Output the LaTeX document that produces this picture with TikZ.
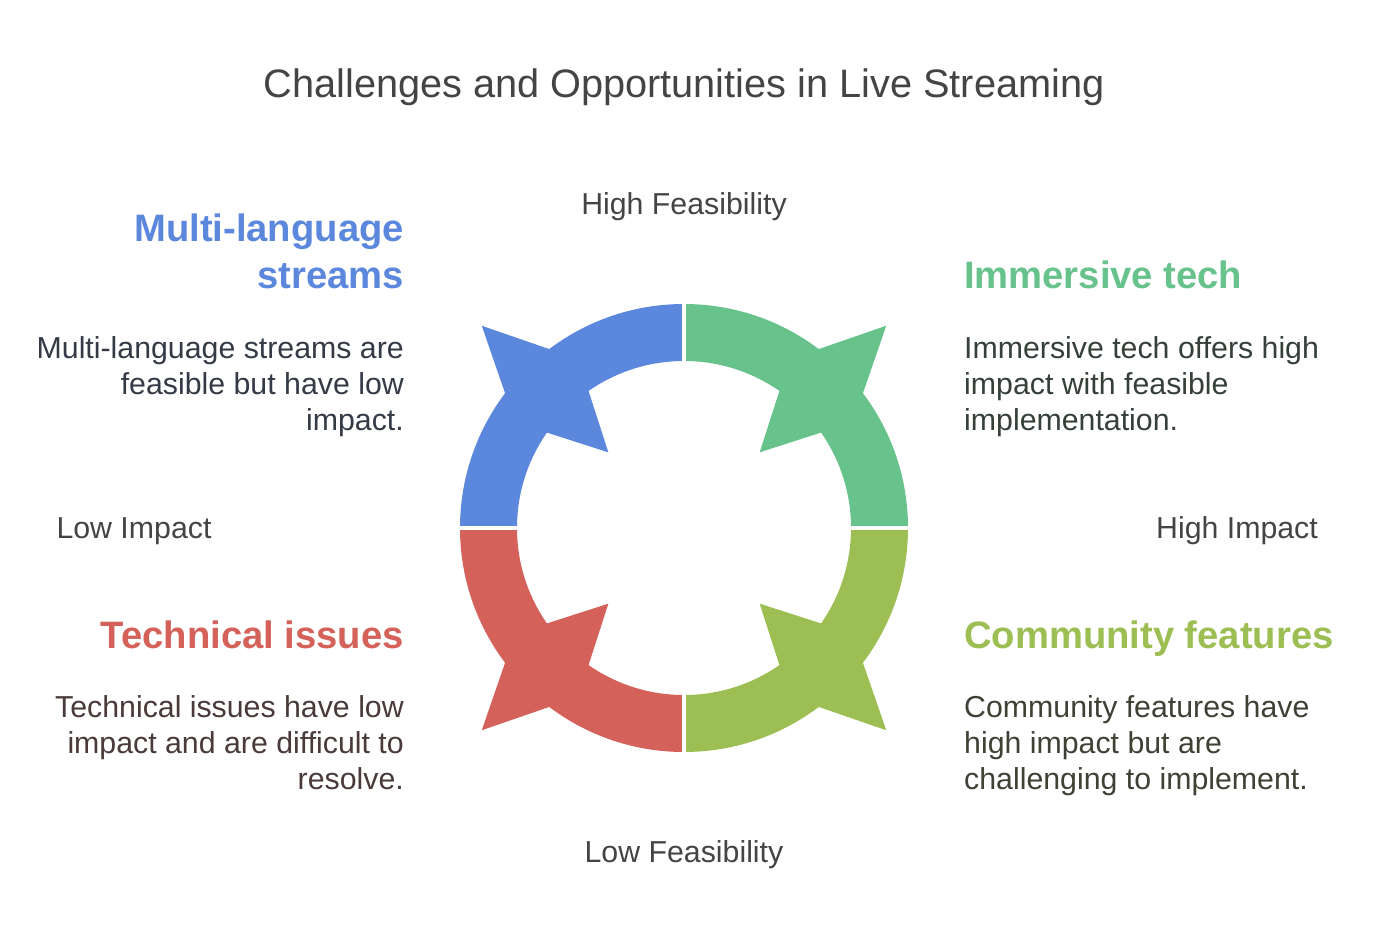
\documentclass[tikz,border=0pt]{standalone}
\usepackage{fontspec}
\setmainfont{Liberation Sans}
\definecolor{cblue}{RGB}{91,135,221}
\definecolor{cgreen}{RGB}{103,194,140}
\definecolor{cred}{RGB}{212,97,90}
\definecolor{colive}{RGB}{156,190,82}
\definecolor{titlegray}{RGB}{68,68,68}
\definecolor{axisgray}{RGB}{68,68,68}
\definecolor{tblue}{RGB}{52,58,70}
\definecolor{tgreen}{RGB}{52,64,56}
\definecolor{tred}{RGB}{74,58,58}
\definecolor{tolive}{RGB}{62,66,52}
\newcommand\ringpart[2]{%
  \fill[#1] (#2:224) arc[start angle=#2, end angle=#2+90, radius=224]
     -- ({#2+90}:167) arc[start angle=#2+90, end angle=#2, radius=167] -- cycle;
  \fill[#1] ({#2+45}:286) -- ({#2+45-8.1}:223.5) -- ({#2+45-10.2}:167.5)
     -- ({#2+45}:107) -- ({#2+45+10.2}:167.5) -- ({#2+45+8.1}:223.5) -- cycle;
}
\begin{document}
\begin{tikzpicture}[x=1pt,y=-1pt,
  titlestyle/.style={font=\fontsize{39.7}{46}\selectfont, text=titlegray, anchor=base, inner sep=0pt},
  axislab/.style={font=\fontsize{30.3}{34}\selectfont, text=axisgray, anchor=base, inner sep=0pt},
  head/.style={font=\fontsize{38.2}{44}\selectfont\bfseries, inner sep=0pt},
  body/.style={font=\fontsize{30.3}{36}\selectfont, inner sep=0pt}]
\useasboundingbox (0,0) rectangle (1384,948);
\fill[white] (0,0) rectangle (1384,948);

% ring
\begin{scope}[shift={(684,528)}, yscale=-1]
  \ringpart{cblue}{90}
  \ringpart{cgreen}{0}
  \ringpart{cred}{180}
  \ringpart{colive}{270}
  \foreach \a in {0,90,180,270}
    \draw[white, line width=4pt] (\a:160) -- (\a:232);
\end{scope}

% title and axis labels
\node[titlestyle] (title) at (684,97) {Challenges and Opportunities in Live Streaming};
\node[axislab] (hf) at (684,214) {High Feasibility};
\node[axislab] (lf) at (684,862) {Low Feasibility};
\node[axislab] (li) at (134,538) {Low Impact};
\node[axislab] (hi) at (1237,538) {High Impact};

% Multi-language streams
\node[head, text=cblue, anchor=base east] (mlh1) at (404,241) {Multi-language};
\node[head, text=cblue, anchor=base east] (mlh2) at (404,288) {streams};
\node[body, text=tblue, anchor=base east] (mlb1) at (404,358) {Multi-language streams are};
\node[body, text=tblue, anchor=base east] (mlb2) at (404,394) {feasible but have low};
\node[body, text=tblue, anchor=base east] (mlb3) at (404,430) {impact.};

% Immersive tech
\node[head, text=cgreen, anchor=base west] (imh) at (964,288) {Immersive tech};
\node[body, text=tgreen, anchor=base west] (imb1) at (964,358) {Immersive tech offers high};
\node[body, text=tgreen, anchor=base west] (imb2) at (964,394) {impact with feasible};
\node[body, text=tgreen, anchor=base west] (imb3) at (964,430) {implementation.};

% Technical issues
\node[head, text=cred, anchor=base east] (tih) at (404,648) {Technical issues};
\node[body, text=tred, anchor=base east] (tib1) at (404,717) {Technical issues have low};
\node[body, text=tred, anchor=base east] (tib2) at (404,753) {impact and are difficult to};
\node[body, text=tred, anchor=base east] (tib3) at (404,789) {resolve.};

% Community features
\node[head, text=colive, anchor=base west] (cfh) at (964,648) {Community features};
\node[body, text=tolive, anchor=base west] (cfb1) at (964,717) {Community features have};
\node[body, text=tolive, anchor=base west] (cfb2) at (964,753) {high impact but are};
\node[body, text=tolive, anchor=base west] (cfb3) at (964,789) {challenging to implement.};
\end{tikzpicture}
\end{document}
